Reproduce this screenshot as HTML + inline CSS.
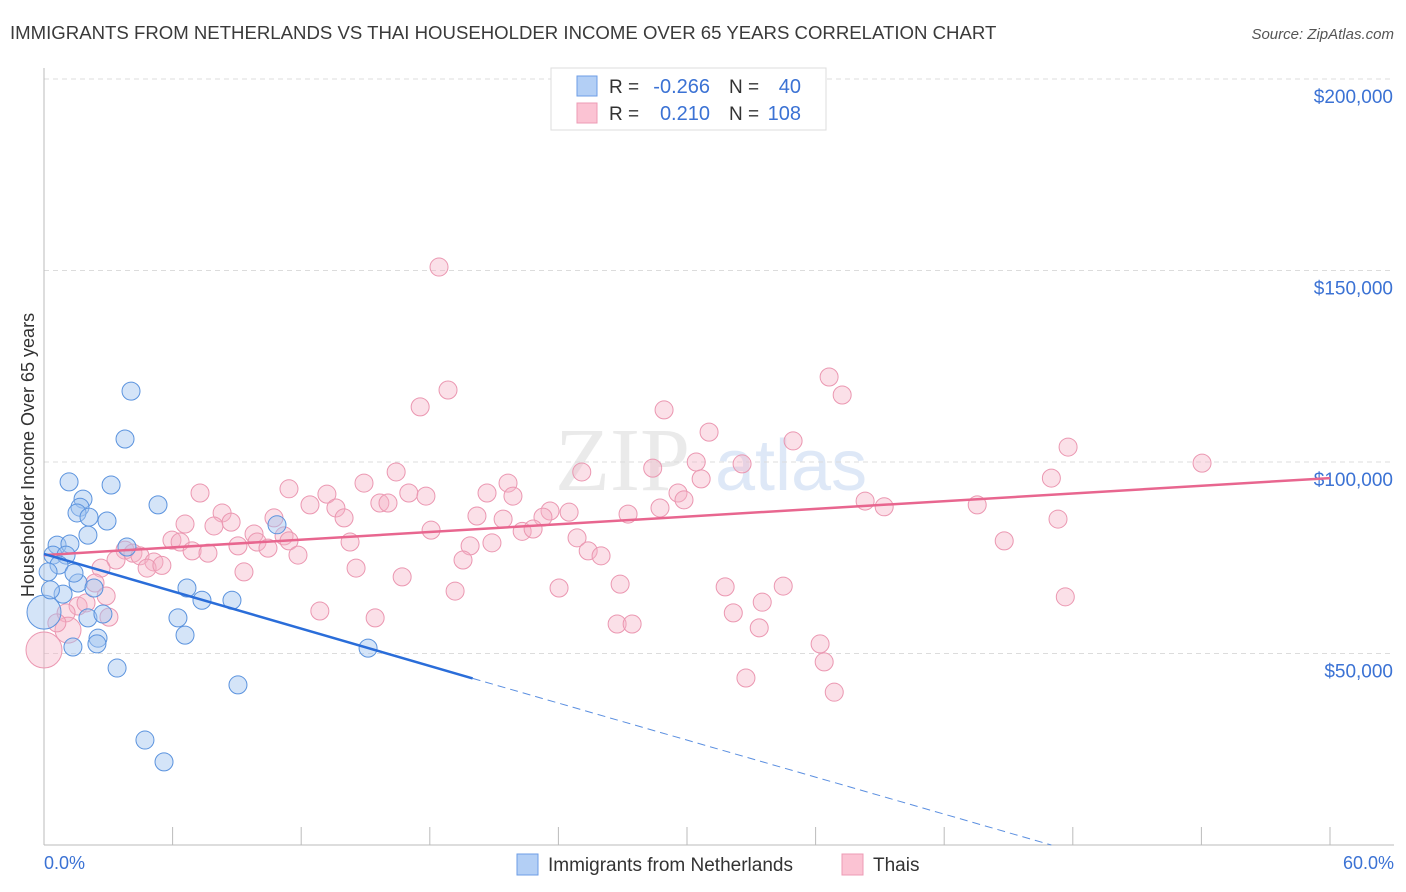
<!DOCTYPE html>
<html><head><meta charset="utf-8"><style>
body{margin:0;background:#fff;font-family:"Liberation Sans",sans-serif;}
#wrap{position:relative;width:1406px;height:892px;overflow:hidden;}
</style></head><body>
<div id="wrap">
<svg id="svg" width="1406" height="892" xmlns="http://www.w3.org/2000/svg"></svg>
</div>
<script>
const xTicks=[0,6,12,18,24,30,36,42,48,54,60];
const yTicks=[50000,100000,150000,200000];
const yTickLabels=["$50,000","$100,000","$150,000","$200,000"];
const blueX=[4.06,3.78,1.17,3.13,1.82,1.68,1.54,2.10,2.94,5.32,2.05,0.61,1.21,0.42,1.03,3.87,10.87,0.70,0.19,1.59,0.89,2.33,6.67,7.37,8.77,6.25,2.05,2.75,0.0,6.58,2.52,2.47,1.35,15.12,3.41,9.05,4.71,5.60,1.40,0.3];
const blueY=[118.5,106,94.8,94,90.3,88.2,86.7,85.6,84.6,88.8,80.9,78.3,78.6,75.7,75.7,77.8,83.6,73.1,71.3,68.4,65.5,67.1,67.1,63.9,63.9,59.3,59.3,60.3,60.8,54.8,54.0,52.5,51.7,51.4,46.2,41.8,27.4,21.7,71.0,66.6];
const blueR=[9,9,9,9,9,9,9,9,9,9,9,9,9,9,9,9,9,9,9,9,9,9,9,9,9,9,9,9,17,9,9,9,9,9,9,9,9,9,9,9];
const pinkX=[18.43,18.85,17.55,36.63,37.24,28.93,31.03,34.95,47.78,54.03,30.43,32.57,28.40,25.09,16.43,14.93,47.0,21.65,30.66,11.43,7.28,13.20,17.02,17.82,20.67,21.88,29.58,29.86,38.31,39.20,43.54,12.41,13.62,15.67,16.05,23.61,24.50,27.25,28.74,23.28,20.20,21.42,8.31,10.73,14.00,47.31,6.58,7.93,8.73,18.06,22.31,22.82,9.80,11.20,5.97,6.35,9.94,11.43,14.28,20.90,19.88,24.87,44.80,9.05,10.45,3.78,4.15,4.48,6.91,7.65,11.85,25.39,25.99,3.36,5.13,19.55,4.81,9.33,14.56,2.66,16.71,2.38,26.88,34.49,31.78,19.18,24.03,47.65,33.51,1.59,1.96,12.87,32.16,1.03,15.45,3.03,26.74,27.44,33.37,1.12,36.21,36.40,0.0,32.75,36.87,2.9,0.6,5.5];
const pinkY=[150.9,118.8,114.4,122.2,117.5,113.6,107.8,105.5,103.9,99.7,100,99.5,98.4,97.4,97.4,94.5,95.8,94.5,95.6,93.0,91.9,91.6,91.9,91.1,91.9,91.1,91.9,90.1,89.8,88.3,88.8,88.8,88.0,89.3,89.3,87.2,86.9,86.4,88.0,85.6,85.9,85.1,86.7,85.4,85.4,85.1,83.8,83.3,84.3,82.2,81.9,82.5,81.2,80.7,79.6,79.1,79.1,79.4,79.1,78.9,78.1,80.2,79.4,78.1,77.5,77.0,76.2,75.5,76.8,76.2,75.7,76.8,75.5,74.4,73.9,74.4,72.3,71.3,72.3,72.3,70.0,68.4,68.1,67.6,67.4,66.3,67.1,64.8,63.4,62.4,63.2,61.1,60.6,60.6,59.3,59.5,57.7,57.7,56.7,56.1,52.5,47.8,50.9,43.6,39.9,65.0,58.0,73.0];
const pinkR=pinkX.map((v,i)=>i===99?13:(i===102?18:9));
const blueTrend=[[0,76],[20,43.5]];
const blueDash=[[20,43.5],[47,0]];
const pinkTrend=[[0,75.7],[60,95.8]];

const X0=44,X1=1330,YB=845,PX=191.5/50000;
const sx=v=>X0+(v/60)*(X1-X0);
const sy=v=>YB-v*PX;
const svg=document.getElementById('svg');
const NS='http://www.w3.org/2000/svg';
function el(tag,attrs,parent){const e=document.createElementNS(NS,tag);for(const k in attrs)e.setAttribute(k,attrs[k]);(parent||svg).appendChild(e);return e;}

let t=el('text',{x:10,y:39,'font-size':18.6,fill:'#3a3a3a'});t.textContent='IMMIGRANTS FROM NETHERLANDS VS THAI HOUSEHOLDER INCOME OVER 65 YEARS CORRELATION CHART';

t=el('text',{x:1394,y:39,'font-size':15,fill:'#555','font-style':'italic','text-anchor':'end'});t.textContent='Source: ZipAtlas.com';


t=el('text',{x:555,y:490,'font-size':90,fill:'#e6e6e6','font-family':'Liberation Serif',opacity:0.8});t.textContent='ZIP';

t=el('text',{x:715,y:490,'font-size':72,fill:'#c9daf2',opacity:0.6});t.textContent='atlas';


yTicks.forEach((v,i)=>{
  const g=el('line',{x1:X0,x2:1394,y1:sy(v),y2:sy(v),stroke:'#dcdcdc','stroke-dasharray':'5,4'});
  
  const l=el('text',{x:1393,y:sy(v)+24,'font-size':19,fill:'#3b72d4','text-anchor':'end'});l.textContent=yTickLabels[i];
  
});
let a=el('line',{x1:X0,x2:X0,y1:68,y2:YB,stroke:'#bbb'});
a=el('line',{x1:X0,x2:1394,y1:YB,y2:YB,stroke:'#bbb'});
xTicks.forEach(v=>{const k=el('line',{x1:sx(v),x2:sx(v),y1:YB,y2:YB-18,stroke:'#bbb'});
  });
t=el('text',{x:44,y:869,'font-size':18,fill:'#3b72d4'});t.textContent='0.0%';

t=el('text',{x:1394,y:869,'font-size':18,fill:'#3b72d4','text-anchor':'end'});t.textContent='60.0%';

t=el('text',{x:0,y:0,'font-size':18,fill:'#333','text-anchor':'middle',transform:'translate(34,455) rotate(-90)'});t.textContent='Householder Income Over 65 years';


pinkX.forEach((v,i)=>{const c=el('circle',{cx:sx(v),cy:sy(pinkY[i]*1000),r:pinkR[i],fill:'rgba(246,178,198,0.4)',stroke:'#eb97b1','stroke-width':1});
  });
blueX.forEach((v,i)=>{const c=el('circle',{cx:sx(v),cy:sy(blueY[i]*1000),r:blueR[i],fill:'rgba(160,195,240,0.45)',stroke:'#5b93de','stroke-width':1});
  });

let ln=el('line',{x1:sx(pinkTrend[0][0]),y1:sy(pinkTrend[0][1]*1000),x2:sx(pinkTrend[1][0]),y2:sy(pinkTrend[1][1]*1000),stroke:'#e8668f','stroke-width':2.5});

ln=el('line',{x1:sx(blueTrend[0][0]),y1:sy(blueTrend[0][1]*1000),x2:sx(blueTrend[1][0]),y2:sy(blueTrend[1][1]*1000),stroke:'#2a6dd9','stroke-width':2.5});

ln=el('line',{x1:sx(blueDash[0][0]),y1:sy(blueDash[0][1]*1000),x2:sx(blueDash[1][0]),y2:sy(blueDash[1][1]*1000),stroke:'#5b8fe0','stroke-width':1,'stroke-dasharray':'8,5'});


let b=el('rect',{x:551,y:68,width:275,height:62,fill:'#fff',stroke:'#ddd'});
[[0,'#b3cff5','#6e9ee6','-0.266',' 40'],[1,'#fbc3d3','#ec9bb5',' 0.210','108']].forEach(r=>{
  const y=86+r[0]*27;
  const s=el('rect',{x:577,y:y-10,width:20,height:20,fill:r[1],stroke:r[2]});
  let q=el('text',{x:609,y:y+7,'font-size':19,fill:'#333'});q.textContent='R =';
  q=el('text',{x:710,y:y+7,'font-size':20,fill:'#3b72d4','text-anchor':'end'});q.textContent=r[3];
  q=el('text',{x:729,y:y+7,'font-size':19,fill:'#333'});q.textContent='N =';
  q=el('text',{x:801,y:y+7,'font-size':20,fill:'#3b72d4','text-anchor':'end'});q.textContent=r[4];
});

[[517,'#b3cff5','#6e9ee6','Immigrants from Netherlands','legend-netherlands'],[842,'#fbc3d3','#ec9bb5','Thais','legend-thais']].forEach(r=>{
  const s=el('rect',{x:r[0],y:854,width:21,height:21,fill:r[1],stroke:r[2]});
  const q=el('text',{x:r[0]+31,y:871,'font-size':19,fill:'#333'});q.textContent=r[3];
});
</script>
</body></html>
